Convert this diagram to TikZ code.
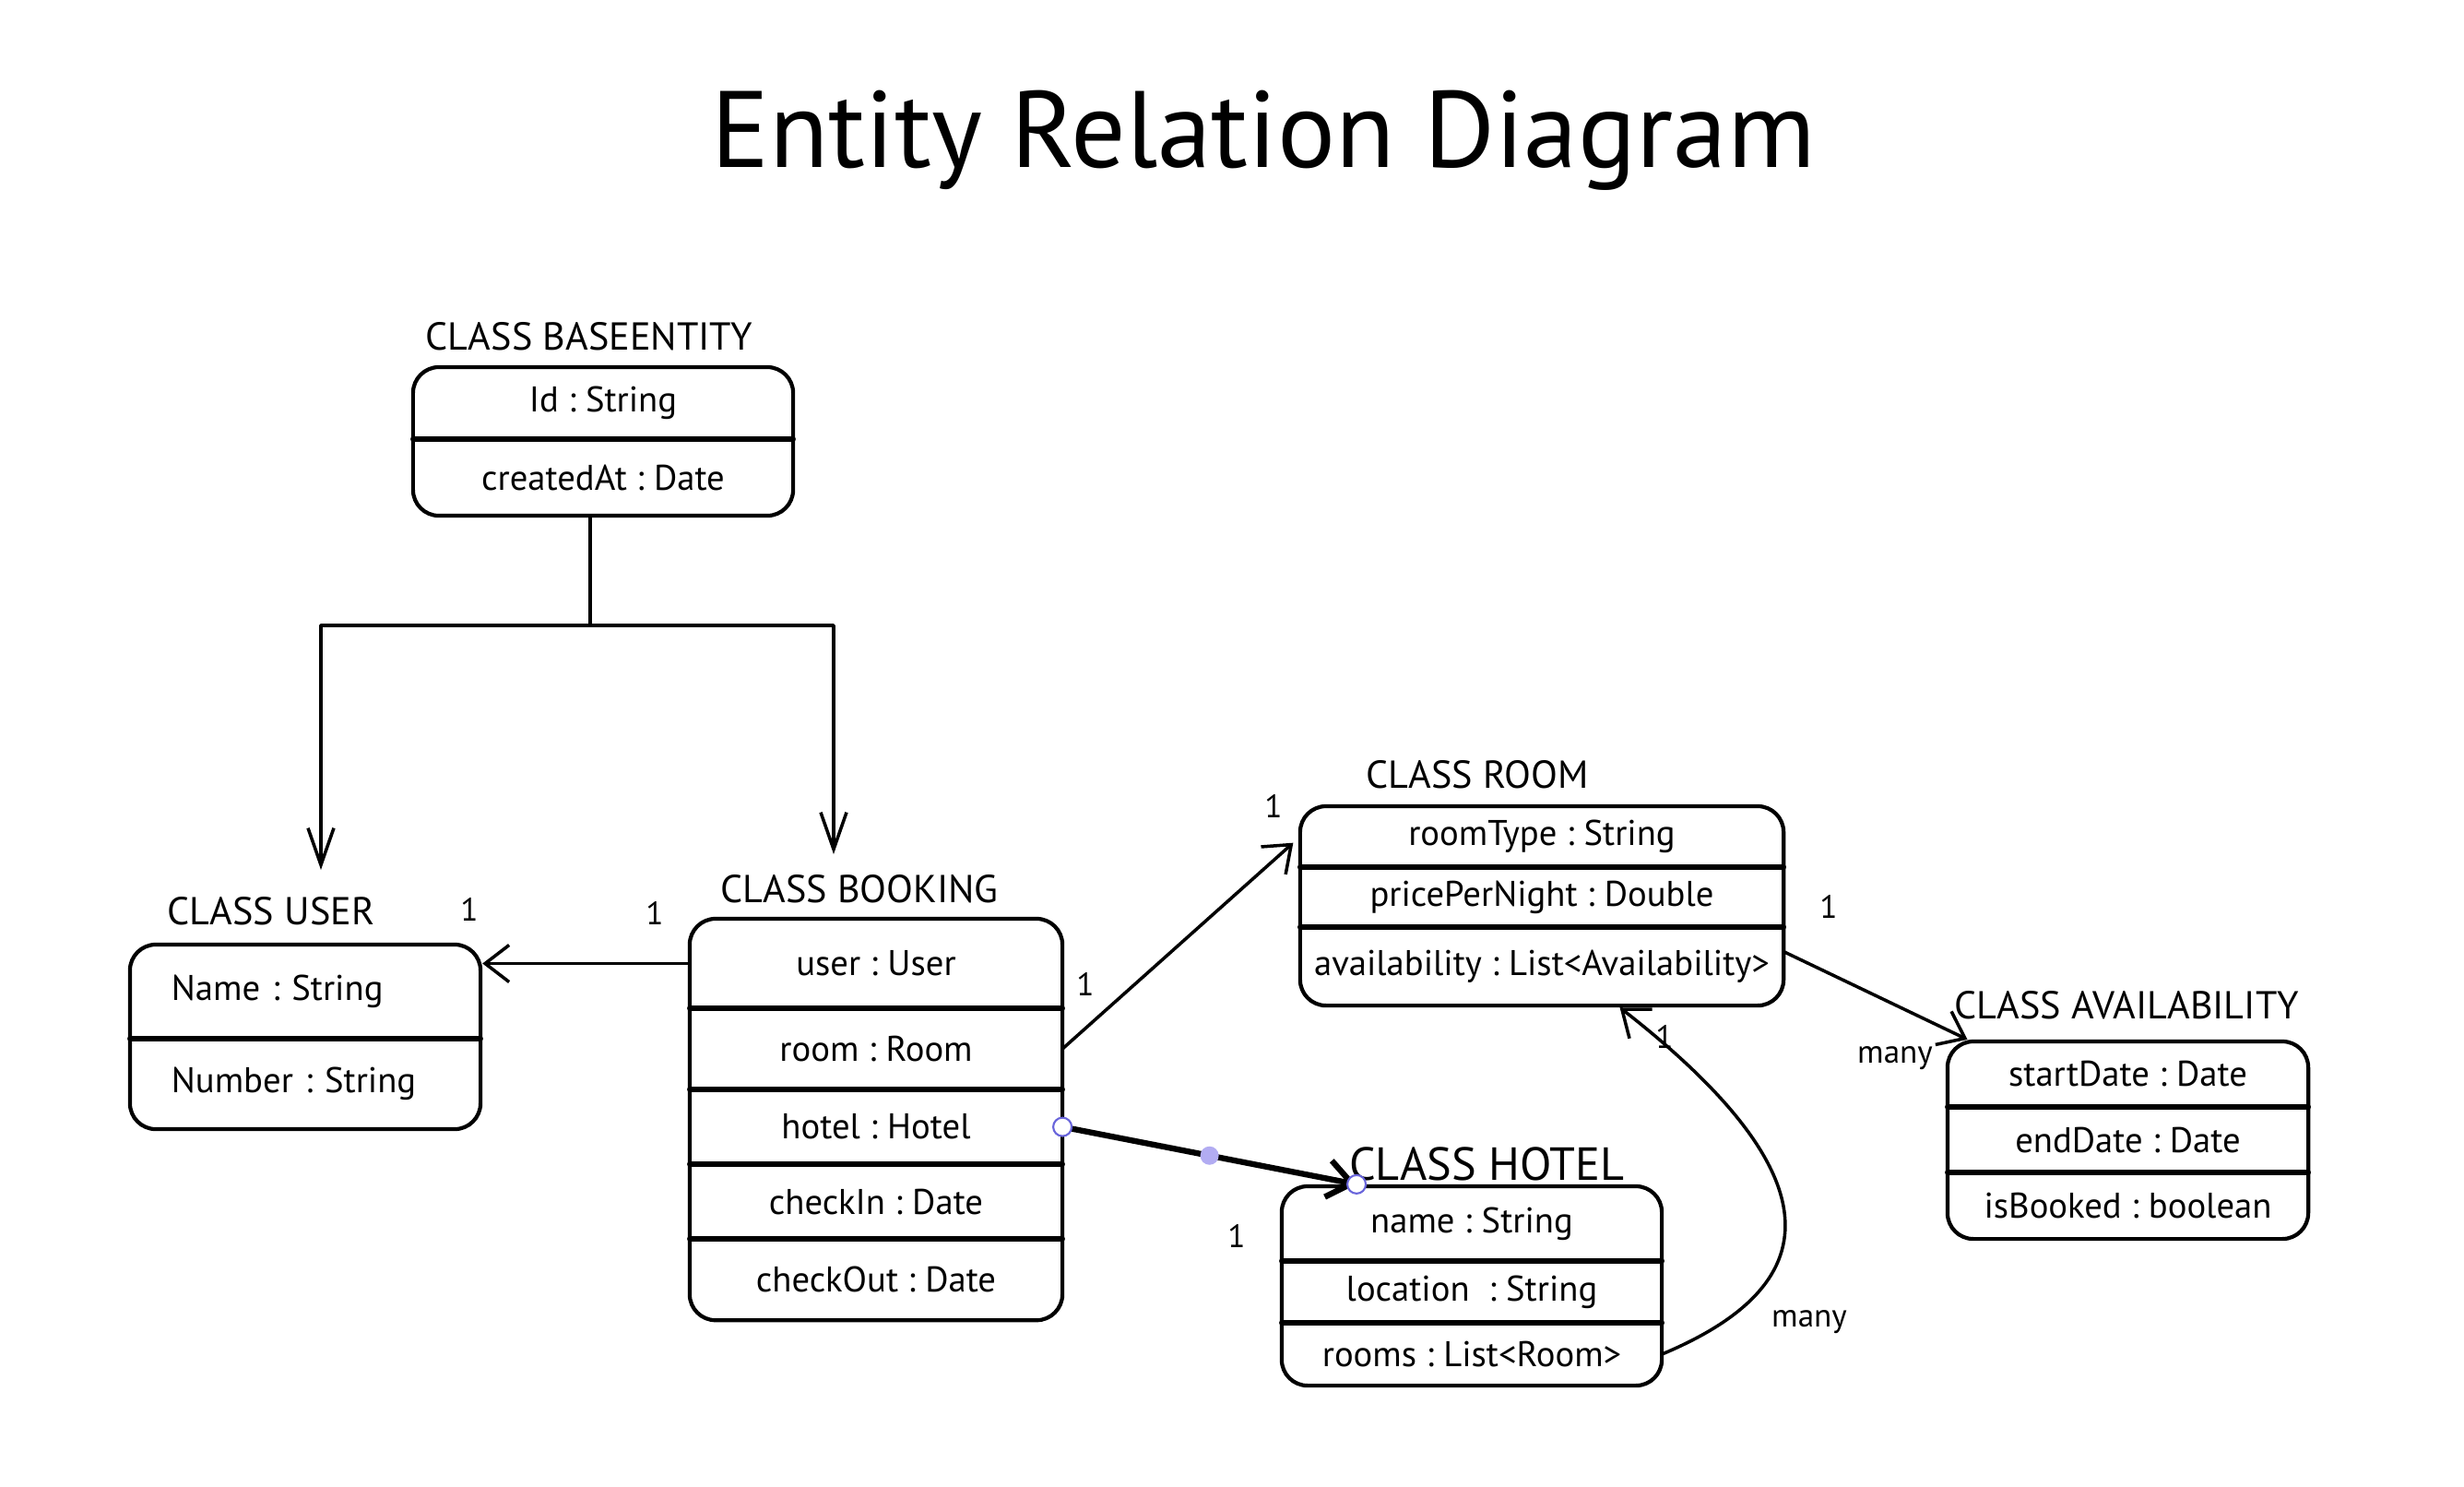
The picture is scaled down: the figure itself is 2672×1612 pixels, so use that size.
\documentclass[tikz,border=0pt]{standalone}
\usepackage{fontspec}
\setmainfont{PT Sans}
\usetikzlibrary{arrows.meta,positioning,fit,calc}
\definecolor{handleblue}{RGB}{105,101,219}
\definecolor{handlefill}{RGB}{178,172,242}
\frenchspacing

\begin{document}
\begin{tikzpicture}
[x=0.01cm,y=-0.01cm,node distance=0pt,line cap=round,line join=round,
>={Straight Barb[length=2.6mm,width=4mm]},
every node/.style={font=\fontsize{11}{13}\selectfont},
attr/.style={minimum height=#1,inner sep=0pt,outer sep=0pt},
base attr/.style={attr=#1,minimum width=4.12cm},
user attr/.style={attr=#1,minimum width=3.8cm,text width=2.9cm,align=left},
booking attr/.style={attr=#1,minimum width=4.04cm},
room attr/.style={attr=#1,minimum width=5.24cm},
hotel attr/.style={attr=#1,minimum width=4.12cm},
avail attr/.style={attr=#1,minimum width=3.91cm},
box/.style={draw,line width=1.2pt,rounded corners=8pt,inner sep=0pt},
divider/.style={line width=1.6pt},
class label/.style={font=\fontsize{12}{14}\selectfont},
link/.style={line width=1pt},
parent link/.style={link,-{Straight Barb[length=4mm,width=2.8mm]}},
mult/.style={font=\fontsize{10}{12}\selectfont},
handle/.style={circle,draw=handleblue,fill=white,line width=0.6pt,minimum size=2mm,inner sep=0pt},
mid handle/.style={circle,fill=handlefill,minimum size=2mm,inner sep=0pt}]
\fill [white] (0,0) rectangle (2672,1612);
\node [font=\fontsize{33.5}{40}\selectfont] (title) at (1370,152) {Entity Relation Diagram};
% BaseEntity
\node [base attr=0.78cm] (e-id) at (654,437) {Id : String};
\node [base attr=0.83cm] (e-created) [below=of e-id] {createdAt : Date};
\node [box,fit=(e-id)(e-created)] (base) {};
\draw [divider] (e-id.south west) -- (e-id.south east);
\node [class label] (l-base) at (639,365) {CLASS BASEENTITY};
% User
\node [user attr=1.02cm] (u-name) at (331,1075) {Name : String};
\node [user attr=0.98cm] (u-number) [below=of u-name] {Number : String};
\node [box,fit=(u-name)(u-number)] (user) {};
\draw [divider] (u-name.south west) -- (u-name.south east);
\node [class label] (l-user) at (294,988) {CLASS USER};
% Booking
\node [booking attr=0.97cm] (b-user) at (950,1044.5) {user : User};
\node [booking attr=0.88cm] (b-room) [below=of b-user] {room : Room};
\node [booking attr=0.81cm] (b-hotel) [below=of b-room] {hotel : Hotel};
\node [booking attr=0.81cm] (b-in) [below=of b-hotel] {checkIn : Date};
\node [booking attr=0.88cm] (b-out) [below=of b-in] {checkOut : Date};
\node [box,fit=(b-user)(b-out)] (booking) {};
\foreach \r in {b-user,b-room,b-hotel,b-in}
  \draw [divider] (\r.south west) -- (\r.south east);
\node [class label] (l-booking) at (932,964) {CLASS BOOKING};
% Room
\node [room attr=0.66cm] (r-type) at (1672,907) {roomType : String};
\node [room attr=0.65cm] (r-price) [below=of r-type] {pricePerNight : Double};
\node [room attr=0.85cm] (r-avail) [below=of r-price] {availability : List<Availability>};
\node [box,fit=(r-type)(r-avail)] (room) {};
\foreach \r in {r-type,r-price}
  \draw [divider] (\r.south west) -- (\r.south east);
\node [class label] (l-room) at (1602,840) {CLASS ROOM};
% Hotel
\node [hotel attr=0.81cm] (h-name) at (1596,1326.5) {name : String};
\node [hotel attr=0.67cm] (h-location) [below=of h-name] {location\ \ : String};
\node [hotel attr=0.68cm] (h-rooms) [below=of h-location] {rooms : List<Room>};
\node [box,fit=(h-name)(h-rooms)] (hotel) {};
\foreach \r in {h-name,h-location}
  \draw [divider] (\r.south west) -- (\r.south east);
\node [class label,font=\fontsize{14.3}{16}\selectfont] (l-hotel) at (1612,1262) {CLASS HOTEL};
% Availability
\node [avail attr=0.71cm] (a-start) at (2307.5,1164.5) {startDate : Date};
\node [avail attr=0.71cm] (a-end) [below=of a-start] {endDate : Date};
\node [avail attr=0.72cm] (a-booked) [below=of a-end] {isBooked : boolean};
\node [box,fit=(a-start)(a-booked)] (availability) {};
\foreach \r in {a-start,a-end}
  \draw [divider] (\r.south west) -- (\r.south east);
\node [class label] (l-avail) at (2306,1090) {CLASS AVAILABILITY};
% inheritance
\coordinate (j) at (640,678);
\coordinate (tip-user) at (348,943);
\coordinate (tip-booking) at (904,926);
\draw [link] (base.south -| j) -- (j);
\draw [parent link] (j) -| (tip-user);
\draw [parent link] (j) -| (tip-booking);
% associations
\draw [link,->] (b-user.west) -- (b-user.west -| user.east);
\draw [link,->,shorten >=1mm] (b-room.east) -- (r-type.west);
\coordinate (hotel-top) at ($(hotel.north west)!0.2!(hotel.north east)$);
\draw [line width=1.8pt,->] (b-hotel.east) -- (hotel-top);
\node [handle] (hd-start) at (b-hotel.east) {};
\node [handle] (hd-end) at (hotel-top) {};
\node [mid handle] (hd-mid) at ($(hd-start)!0.5!(hd-end)$) {};
\coordinate (room-bottom) at ($(room.south west)!0.66!(room.south east)$);
\draw [link,->] (h-rooms.east) .. controls (1965,1400) and (2010,1290) .. (room-bottom);
\coordinate (avail-top) at ($(availability.north west)!0.06!(availability.north east)$);
\draw [link,->] ([yshift=1.6mm]r-avail.east) -- (avail-top);
% multiplicities
\node [mult] (m-user) at (509,986) {1};
\node [mult] (m-booking-user) at (710,990) {1};
\node [mult] (m-booking-room) at (1177,1067) {1};
\node [mult] (m-room) at (1381,874) {1};
\node [mult] (m-hotel) at (1341,1340) {1};
\node [mult] (m-room-hotel) at (1805,1124) {1};
\node [mult] (m-rooms) at (1962,1433) {many};
\node [mult] (m-room-avail) at (1983,983) {1};
\node [mult] (m-avail) at (2055,1147) {many};
\end{tikzpicture}
\end{document}
